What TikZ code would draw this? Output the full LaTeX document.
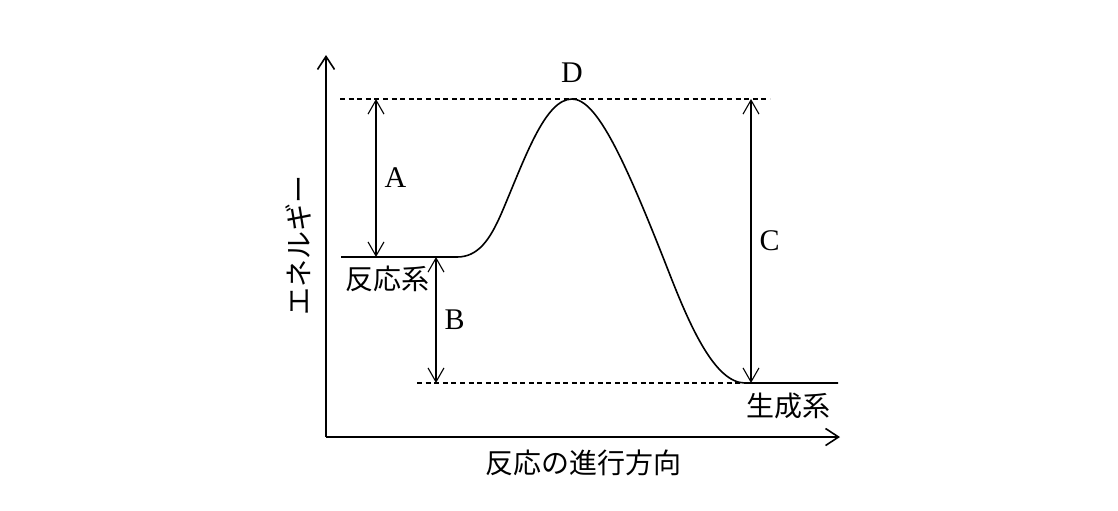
\documentclass[tikz,border=0pt]{standalone}
\usepackage{fontspec}
\setmainfont{Liberation Serif}
\newfontfamily\jp{Noto Sans CJK JP}
\usetikzlibrary{arrows.meta,positioning}
\tikzstyle{axis} = [draw, line width=0.8pt, -{Straight Barb[length=6.5pt,width=8.5pt]}]
\tikzstyle{level} = [draw, line width=0.8pt]
\tikzstyle{guide} = [draw, line width=0.6pt, dash pattern=on 2.5pt off 1.8pt]
\tikzstyle{gap} = [draw, line width=0.55pt, {Straight Barb[length=7pt,width=8pt]}-{Straight Barb[length=7pt,width=8pt]}]
\tikzstyle{letter} = [inner sep=0pt, font=\fontsize{15pt}{15pt}\selectfont]
\tikzstyle{jtext} = [inner sep=0pt, font=\jp\fontsize{14pt}{14pt}\selectfont]

\begin{document}
\begin{tikzpicture}[x=0.5pt, y=-0.5pt]
\useasboundingbox (0,0) rectangle (1118,510);

\coordinate (origin) at (326,437);
\coordinate (ytop) at (326,55);
\coordinate (xend) at (840,437);

\coordinate (reac0) at (341,257);
\coordinate (reac1) at (457,257);
\coordinate (ts) at (572,99);
\coordinate (prod0) at (745,383);
\coordinate (prod1) at (838,383);

\coordinate (topL) at (340,99);
\coordinate (topR) at (770,99);
\coordinate (botL) at (417,383);

\coordinate (aTop) at (376,99);
\coordinate (aBot) at (376,257);
\coordinate (bTop) at (436,257);
\coordinate (bBot) at (436,383);
\coordinate (cTop) at (751,99);
\coordinate (cBot) at (751,383);

\draw [axis] (origin) -- (ytop);
\draw [axis] (origin) -- (xend);

\draw [guide] (topL) -- (topR);
\draw [guide] (botL) -- (prod0);

\draw [level] (reac0) -- (reac1) .. controls (478,257) and (490,240) .. (502,212)
  .. controls (525,158) and (545,99) .. (ts)
  .. controls (597,99) and (625,160) .. (670,275)
  .. controls (690,326) and (715,383) .. (prod0) -- (prod1);

\draw [gap] (aTop) -- node [letter, right=4pt] (A) {A} (aBot);
\draw [gap] (bTop) -- node [letter, right=4pt] (B) {B} (bBot);
\draw [gap] (cTop) -- node [letter, right=4pt] (C) {C} (cBot);

\node [letter, above=8pt of ts] (D) {D};

\node [jtext] (reac) at (387,279) {反応系};
\node [jtext] (prod) at (788,406) {生成系};
\node [jtext] (xlabel) at (583,463) {反応の進行方向};
\node [jtext, rotate=90] (ylabel) at (298,245) {エネルギー};

\end{tikzpicture}
\end{document}
